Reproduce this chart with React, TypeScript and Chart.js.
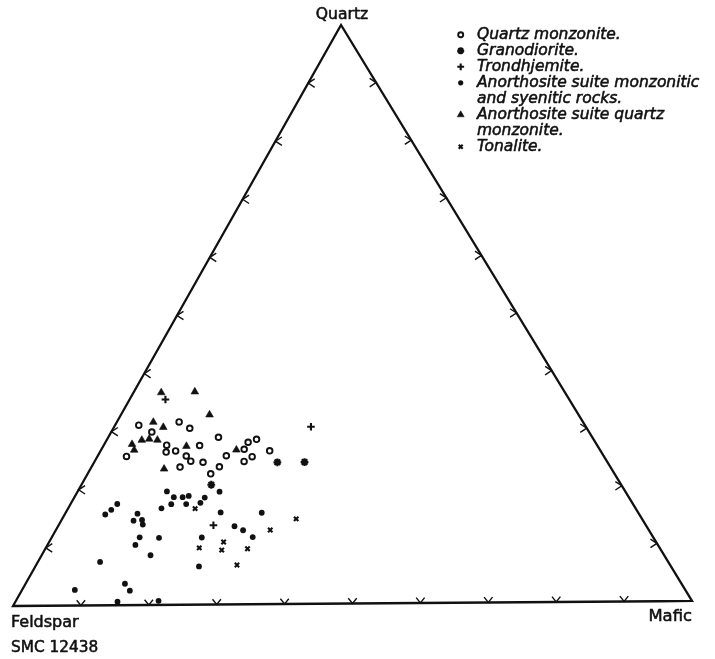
import React, { useEffect, useRef } from "react";
import { Chart, registerables } from "chart.js";
import { drawPoint } from "chart.js/helpers";

Chart.register(...registerables);

// ---- Ternary compositions in percent (Feldspar = 100 - Quartz - Mafic) ----
const quartzMonzoniteQ = [31.1, 31.6, 30.5, 29.9, 25.7, 27.6, 26.4, 26.6, 25.7, 24.8, 27.5, 24.6, 28.9, 23.8, 22.6, 23.8, 25.7, 26.8, 28.0, 28.5, 24.7, 25.5, 26.5];
const quartzMonzoniteM = [3.5, 9.2, 11.3, 6.0, 4.3, 9.3, 9.8, 11.1, 13.1, 14.2, 14.2, 16.1, 16.3, 18.9, 18.2, 13.1, 19.0, 21.1, 21.1, 22.1, 22.1, 22.9, 25.0];

const granodioriteQ = [24.5, 24.5, 20.7];
const granodioriteM = [27.1, 31.1, 19.2];

const trondhjemiteQ = [35.5, 30.6, 13.7];
const trondhjemiteM = [5.3, 29.1, 22.9];

const anoMonzoniticQ = [19.5, 18.8, 18.6, 18.5, 19.6, 18.6, 17.4, 17.4, 17.6, 16.7, 15.9, 13.5, 12.8, 11.6, 11.6, 11.6, 6.6, 15.8, 17.5, 16.5, 15.7, 15.8, 14.6, 14.7, 13.9, 11.7, 10.4, 8.6, 7.5, 3.7, 2.5, 2.7, 0.6, 0.7];
const anoMonzoniticM = [21.0, 16.8, 16.0, 19.3, 13.2, 14.7, 14.9, 17.1, 19.1, 13.8, 22.9, 26.1, 27.7, 29.7, 15.9, 22.2, 24.2, 29.0, 6.9, 6.5, 6.0, 10.7, 10.7, 11.9, 12.4, 13.0, 13.0, 16.1, 9.2, 14.7, 16.0, 7.8, 15.1, 21.1];

const anoQuartzMonzQ = [36.7, 36.8, 32.8, 31.6, 30.7, 27.8, 28.5, 28.7, 28.5, 26.8, 27.4, 23.5, 26.7];
const anoQuartzMonzM = [4.1, 9.0, 13.1, 5.4, 7.3, 4.1, 5.2, 6.2, 7.5, 4.9, 12.3, 10.9, 20.0];

const tonaliteQ = [16.6, 10.8, 9.8, 9.4, 9.6, 6.8, 12.8, 14.7];
const tonaliteM = [18.8, 25.8, 22.7, 26.2, 29.9, 29.7, 31.7, 34.6];

const TICK_PERCENTS = [10, 20, 30, 40, 50, 60, 70, 80, 90];

const VERTEX_LABELS = { quartz: "Quartz", feldspar: "Feldspar", mafic: "Mafic" };
const SAMPLE_ID = "SMC 12438";

// Triangle corners in chart units (as printed; slightly skewed drawing)
const V_F = { x: 0, y: 0 };
const V_M = { x: 100, y: 0.74 };
const V_Q = { x: 48.31, y: 85.57 };

const INK = "#111111";

function toXY(q: number, m: number) {
  const f = 100 - q - m;
  return {
    x: (f * V_F.x + m * V_M.x + q * V_Q.x) / 100,
    y: (f * V_F.y + m * V_M.y + q * V_Q.y) / 100,
  };
}

type Sym = { pointStyle: any; radius: number; borderWidth: number; fill: string };

const SERIES: { label: string[]; q: number[]; m: number[]; sym: Sym }[] = [
  { label: ["Quartz monzonite."], q: quartzMonzoniteQ, m: quartzMonzoniteM, sym: { pointStyle: "circle", radius: 2.8, borderWidth: 1.9, fill: "#ffffff" } },
  { label: ["Granodiorite."], q: granodioriteQ, m: granodioriteM, sym: { pointStyle: "star", radius: 3.9, borderWidth: 2.2, fill: INK } },
  { label: ["Trondhjemite."], q: trondhjemiteQ, m: trondhjemiteM, sym: { pointStyle: "cross", radius: 3.8, borderWidth: 2.1, fill: INK } },
  { label: ["Anorthosite suite monzonitic", "and syenitic rocks."], q: anoMonzoniticQ, m: anoMonzoniticM, sym: { pointStyle: "circle", radius: 2.9, borderWidth: 0, fill: INK } },
  { label: ["Anorthosite suite quartz", "monzonite."], q: anoQuartzMonzQ, m: anoQuartzMonzM, sym: { pointStyle: "triangle", radius: 4.4, borderWidth: 0.6, fill: INK } },
  { label: ["Tonalite."], q: tonaliteQ, m: tonaliteM, sym: { pointStyle: "crossRot", radius: 3.1, borderWidth: 2.1, fill: INK } },
];

function buildDatasets() {
  const ds: any[] = [];
  SERIES.forEach((s) => {
    ds.push({
      label: s.label.join(" "),
      data: s.q.map((q, i) => toXY(q, s.m[i])),
      pointStyle: s.sym.pointStyle,
      pointRadius: s.sym.radius,
      pointBorderWidth: s.sym.borderWidth,
      pointBackgroundColor: s.sym.fill,
      pointBorderColor: INK,
      showLine: false,
      clip: false,
    });
  });
  // triangle outline
  ds.push({
    label: "frame",
    data: [V_F, V_M, V_Q, V_F, V_M],
    showLine: true,
    borderColor: INK,
    borderWidth: 2.3,
    borderJoinStyle: "miter",
    pointRadius: 0,
    clip: false,
  });
  // chevron ticks every 10 %
  const armH = 0.95, armV = 0.62, vH = 0.62, vV = 0.78;
  const tickStyle = { showLine: true, borderColor: INK, borderWidth: 1.4, pointRadius: 0, clip: false, borderJoinStyle: "miter" };
  TICK_PERCENTS.forEach((p) => {
    const b = toXY(0, p); // bottom edge (Feldspar-Mafic)
    ds.push({ label: "t", data: [{ x: b.x - vH, y: b.y + vV }, b, { x: b.x + vH, y: b.y + vV }], ...tickStyle });
    const l = toXY(p, 0); // left edge (Feldspar-Quartz)
    ds.push({ label: "t", data: [{ x: l.x + armH, y: l.y + armV }, l, { x: l.x + armH, y: l.y - armV }], ...tickStyle });
    const r = toXY(p, 100 - p); // right edge (Mafic-Quartz)
    ds.push({ label: "t", data: [{ x: r.x - armH, y: r.y + armV }, r, { x: r.x - armH, y: r.y - armV }], ...tickStyle });
  });
  return ds;
}

function inkText(ctx: CanvasRenderingContext2D, s: string, x: number, y: number) {
  ctx.fillText(s, x, y);
  ctx.strokeText(s, x, y);
}

const textPlugin = {
  id: "ternaryText",
  afterDraw(chart: any) {
    const ctx: CanvasRenderingContext2D = chart.ctx;
    const xs = chart.scales.x;
    const ys = chart.scales.y;
    ctx.save();
    ctx.fillStyle = INK;
    ctx.strokeStyle = INK;
    ctx.lineWidth = 0.55;
    ctx.lineJoin = "round";
    ctx.textBaseline = "alphabetic";

    // corner labels
    ctx.font = '15.6px "DejaVu Sans"';
    ctx.textAlign = "center";
    inkText(ctx, VERTEX_LABELS.quartz, xs.getPixelForValue(V_Q.x) + 1, ys.getPixelForValue(V_Q.y) - 6.5);
    ctx.font = '16px "DejaVu Sans"';
    ctx.textAlign = "left";
    inkText(ctx, VERTEX_LABELS.feldspar, xs.getPixelForValue(V_F.x) - 2, ys.getPixelForValue(V_F.y) + 21);
    ctx.font = '16.4px "DejaVu Sans"';
    ctx.textAlign = "right";
    inkText(ctx, VERTEX_LABELS.mafic, xs.getPixelForValue(V_M.x), ys.getPixelForValue(V_M.y) + 20);
    ctx.font = '15.3px "DejaVu Sans"';
    ctx.textAlign = "left";
    inkText(ctx, SAMPLE_ID, xs.getPixelForValue(V_F.x) - 2, ys.getPixelForValue(V_F.y) + 46);

    // legend
    const markerX = 460.7;
    const textX = 477;
    let baseline = 39.3;
    const lineH = 16;
    ctx.font = 'italic 15.5px "DejaVu Sans"';
    SERIES.forEach((s) => {
      ctx.save();
      ctx.fillStyle = s.sym.fill;
      ctx.strokeStyle = INK;
      ctx.lineWidth = s.sym.borderWidth;
      drawPoint(ctx, { pointStyle: s.sym.pointStyle, radius: s.sym.radius * 0.9, rotation: 0, borderWidth: s.sym.borderWidth } as any, markerX, baseline - 4.5);
      ctx.restore();
      s.label.forEach((line) => {
        inkText(ctx, line, textX, baseline);
        baseline += lineH;
      });
    });
    ctx.restore();
  },
};

export default function App() {
  const ref = useRef<HTMLCanvasElement | null>(null);
  useEffect(() => {
    if (!ref.current) return;
    const chart = new Chart(ref.current, {
      type: "scatter",
      data: { datasets: buildDatasets() },
      options: {
        animation: false,
        responsive: false,
        devicePixelRatio: 1,
        events: [],
        layout: { padding: { left: 13, right: 23, top: 25, bottom: 53 } },
        scales: {
          x: { type: "linear", min: 0, max: 100, display: false },
          y: { type: "linear", min: 0, max: 85.57, display: false },
        },
        plugins: { legend: { display: false }, tooltip: { enabled: false } },
      },
      plugins: [textPlugin],
    } as any);
    return () => chart.destroy();
  }, []);
  return (
    <div style={{ position: "absolute", left: 0, top: 0, width: 715, height: 659, background: "#ffffff" }}>
      <canvas ref={ref} width={715} height={659} style={{ display: "block" }} />
    </div>
  );
}
